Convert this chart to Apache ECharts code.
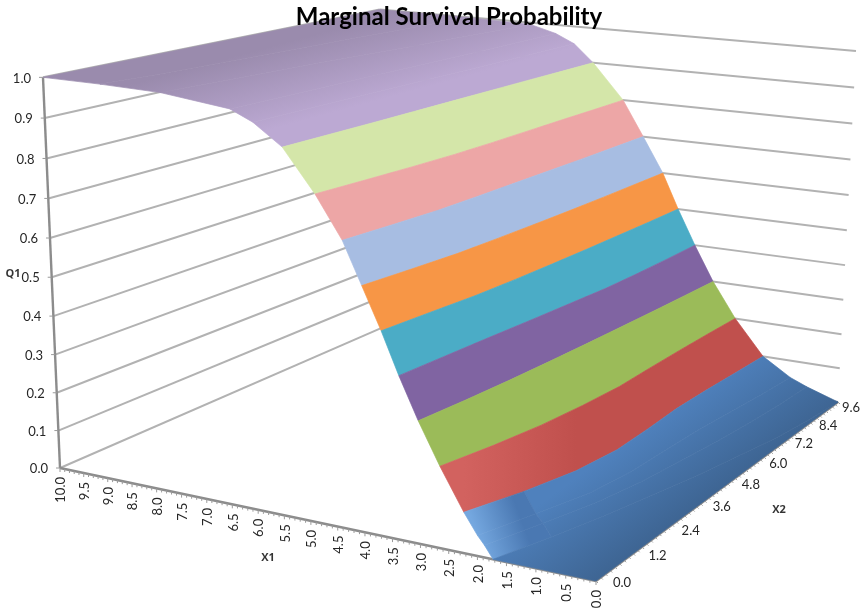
<!DOCTYPE html>
<html><head><meta charset="utf-8">
<style>html,body{margin:0;padding:0;background:#fff}#c{width:865px;height:614px}</style>
<script src="https://cdn.jsdelivr.net/npm/echarts@6/dist/echarts.min.js"></script>
</head><body><div id="c"></div>
<script>
const chartTitle = 'Marginal Survival Probability';
const x1Ticks = ['0.0','0.5','1.0','1.5','2.0','2.5','3.0','3.5','4.0','4.5','5.0','5.5','6.0','6.5','7.0','7.5','8.0','8.5','9.0','9.5','10.0'];
const x2Ticks = ['0.0','1.2','2.4','3.6','4.8','6.0','7.2','8.4','9.6'];
const qTicks = ['0.0','0.1','0.2','0.3','0.4','0.5','0.6','0.7','0.8','0.9','1.0'];
const bandColors = ['#4F81BD','#C0504D','#9BBB59','#8064A2','#4BACC6','#F79646','#A7BDE2','#EDA6A6','#D4E6A9','#BCA9D3'];
// Q1 level of each surface row
const qLevels = [0,0,0.03,0.05,0.1,0.2,0.3,0.4,0.5,0.6,0.7,0.8,0.9,0.95,0.975,0.995,0.999,1];
// X1 position of each row, one value per X2 tick
const x1AtLevel = [
 [0,0,0,0,0,0,0,0,0],
 [1.73,1.40,1.10,0.85,0.60,0.40,0.20,0.08,0],
 [1.88,1.55,1.25,1.05,0.92,0.80,0.72,0.66,0.63],
 [2.00,1.68,1.38,1.25,1.22,1.18,1.10,1.02,0.97],
 [2.24,1.89,1.63,1.52,1.55,1.60,1.59,1.56,1.535],
 [2.66,2.44,2.27,2.17,2.11,2.13,2.14,2.14,2.13],
 [3.04,2.94,2.86,2.80,2.75,2.71,2.67,2.64,2.61],
 [3.38,3.31,3.24,3.16,3.09,3.02,3.00,3.00,3.01],
 [3.69,3.60,3.50,3.45,3.42,3.40,3.39,3.38,3.38],
 [4.03,3.92,3.82,3.78,3.75,3.73,3.72,3.72,3.72],
 [4.37,4.28,4.20,4.18,4.17,4.16,4.15,4.15,4.15],
 [4.85,4.76,4.68,4.62,4.60,4.60,4.60,4.59,4.59],
 [5.43,5.40,5.37,5.35,5.33,5.31,5.29,5.26,5.24],
 [5.96,5.92,5.88,5.84,5.80,5.76,5.72,5.68,5.65],
 [6.38,6.33,6.29,6.25,6.20,6.16,6.12,6.08,6.05],
 [7.69,7.55,7.42,7.30,7.15,7.00,6.87,6.73,6.60],
 [8.86,8.70,8.60,8.50,8.40,8.30,8.20,8.10,8.00],
 [10,10,10,10,10,10,10,10,10]
];
const x1Max = 10, x2Max = 9.6;
// camera of the 3D chart box
const cam = {a:-527.8,b:467.3,p:-21.56,c:596,d:-49.1,e:-70.9,q:-448,f:581,g:0.1365,h:0.2688,r:-0.0518};
function project(x1,x2,q){
  const u=x1/x1Max,v=x2/x2Max,W=cam.g*u+cam.h*v+cam.r*q+1;
  return [(cam.a*u+cam.b*v+cam.p*q+cam.c)/W,(cam.d*u+cam.e*v+cam.q*q+cam.f)/W];
}
const FONT='Lato, "Open Sans", sans-serif';
function hex(c){return [1,3,5].map(i=>parseInt(c.substr(i,2),16));}
function shadeColor(c,f){return 'rgb('+hex(c).map(v=>Math.min(255,Math.round(v*f))).join(',')+')';}
const nR=qLevels.length,nC=x2Ticks.length;
// shading that fades away from an edge of the surface, isolines parallel to that edge
function edgeGradient(a,b,dist,side,stops){
  const dx=b[0]-a[0],dy=b[1]-a[1],l=Math.hypot(dx,dy);
  const nx=side*dy/l,ny=-side*dx/l;
  return new echarts.graphic.LinearGradient(a[0],a[1],a[0]+nx*dist,a[1]+ny*dist,stops,true);
}
// data items: one strip per row between two X2 ticks
const cells=[];
for(let i=nR-2;i>=0;i--){
  if(i>=1&&i<=3){cells.push([i,1,nC-1]);cells.push([i,0,1]);}
  else cells.push([i,0,nC-1]);
}
const wallLines=[];
qTicks.forEach(t=>{const q=+t;
  wallLines.push([x1Max,0,q,x1Max,x2Max,q]);
  wallLines.push([0,x2Max,q,x1Max,x2Max,q]);
});
const axisLines=[[x1Max,0,0,x1Max,0,1],[0,0,0,x1Max,0,0],[0,0,0,0,x2Max,0]];
const tickMarks=[];
for(let k=0;k<=100;k++)tickMarks.push([k/100*x1Max,0,0,0,3+(k%5===0?1:0)]);
for(let k=0;k<=64;k++)tickMarks.push([0,k/64*x2Max,0,2,2]);
qTicks.forEach(t=>tickMarks.push([x1Max,0,+t,-4,0]));
const labelStyle=(o)=>Object.assign({fill:'#262626',font:'13px '+FONT},o);
const textData=[];
x1Ticks.forEach(t=>textData.push({kind:'x1',t}));
x2Ticks.forEach((t,k)=>textData.push({kind:'x2',t,k}));
qTicks.forEach(t=>textData.push({kind:'q',t}));

function P(api,x1,x2,q){return api.coord(project(x1,x2,q));}
const lineSeries=(data,color,width)=>({type:'custom',coordinateSystem:'cartesian2d',clip:false,silent:true,animation:false,
  data:data,renderItem(p,api){const d=data[p.dataIndex];
    const A=P(api,d[0],d[1],d[2]),B=P(api,d[3],d[4],d[5]);
    return {type:'line',shape:{x1:A[0],y1:A[1],x2:B[0],y2:B[1]},style:{stroke:color,lineWidth:width}};}});

function cellFill(api,i,j,band){
  const base=bandColors[band];
  if(band===9){
    const a=P(api,x1AtLevel[12][0],0,0.9),b=P(api,x1AtLevel[12][8],x2Max,0.9);
    return edgeGradient(a,b,100,1,[{offset:0,color:base},{offset:0.2,color:base},{offset:1,color:shadeColor(base,0.82)}]);
  }
  if(band===0){
    if(j===0&&i>=1){
      const a=P(api,x1AtLevel[3][0],0,0.05),b=P(api,x1AtLevel[3][1],1.2,0.05);
      return new echarts.graphic.LinearGradient(a[0],a[1],b[0],b[1],[{offset:0,color:'#74A7DF'},{offset:0.75,color:'#4A78B2'},{offset:1,color:'#4A78B2'}],true);
    }
    const a=P(api,0,0,0),b=P(api,0,x2Max,0);
    return edgeGradient(a,b,95,1,[{offset:0,color:shadeColor(base,0.78)},{offset:1,color:base}]);
  }
  if(band===1){
    const a=P(api,x1AtLevel[4][0],0,0.1),b=P(api,x1AtLevel[4][2],2.4,0.1);
    return new echarts.graphic.LinearGradient(a[0],a[1],b[0],a[1],[{offset:0,color:'#D2625F'},{offset:1,color:base}],true);
  }
  return base;
}

const option={
  animation:false,
  backgroundColor:'#fff',
  title:{text:chartTitle,left:444,top:0,textAlign:'center',textStyle:{fontFamily:FONT,fontWeight:'bold',fontSize:24,color:'#000'},z:20},
  grid:{left:0,right:0,top:0,bottom:0},
  xAxis:{type:'value',min:0,max:865,show:false},
  yAxis:{type:'value',min:0,max:614,inverse:true,show:false},
  series:[
    lineSeries(wallLines,'#b2b2b2',2),
    lineSeries(axisLines,'#8c8c8c',2.4),
    {type:'custom',coordinateSystem:'cartesian2d',clip:false,silent:true,animation:false,data:tickMarks,
     renderItem(p,api){const d=tickMarks[p.dataIndex];const A=P(api,d[0],d[1],d[2]);
       return {type:'line',shape:{x1:A[0],y1:A[1],x2:A[0]+d[3],y2:A[1]+d[4]},style:{stroke:'#9a9a9a',lineWidth:1}};}},
    {type:'custom',coordinateSystem:'cartesian2d',clip:false,silent:true,animation:false,data:cells,
     renderItem(p,api){
       const [i,j0,j1]=cells[p.dataIndex];
       const q0=qLevels[i],q1=qLevels[i+1];
       const band=Math.min(9,Math.floor((q0+q1)/2*10+1e-6));
       const pts=[];
       for(let j=j0;j<=j1;j++)pts.push(P(api,x1AtLevel[i][j],+x2Ticks[j],q0));
       for(let j=j1;j>=j0;j--)pts.push(P(api,x1AtLevel[i+1][j],+x2Ticks[j],q1));
       const fill=cellFill(api,i,j0,band);
       return {type:'polygon',shape:{points:pts},style:{fill:fill,stroke:fill,lineWidth:0.7}};
     }},
    {type:'custom',coordinateSystem:'cartesian2d',clip:false,silent:true,animation:false,z:10,data:textData,
     renderItem(p,api){
       const d=textData[p.dataIndex];
       if(d.kind==='x1'){const A=P(api,+d.t,0,0);
         return {type:'text',x:A[0]+1,y:A[1]+9,rotation:Math.PI/2,style:labelStyle({text:d.t,textAlign:'right',textVerticalAlign:'middle'})};}
       if(d.kind==='x2'){const A=P(api,0,+d.t,0),v=+d.t/x2Max;
         return {type:'text',x:A[0]+26-13*v,y:A[1]+2+4*v,style:labelStyle({text:d.t,textAlign:'center',textVerticalAlign:'middle'})};}
       const A=P(api,x1Max,0,+d.t);
       return {type:'text',x:A[0]-12,y:A[1]+1,style:labelStyle({text:d.t,textAlign:'right',textVerticalAlign:'middle'})};
     }},
    {type:'scatter',symbolSize:0,silent:true,animation:false,z:10,
     data:[{value:[13,274],name:'Q1'},{value:[268,558],name:'X1'},{value:[779,510],name:'X2'}],
     label:{show:true,position:'inside',formatter:'{b}',fontFamily:'"Open Sans", sans-serif',fontWeight:'bold',fontSize:11,color:'#000'}}
  ]
};
const chart=echarts.init(document.getElementById('c'),null,{width:865,height:614});
chart.setOption(option);
</script></body></html>
